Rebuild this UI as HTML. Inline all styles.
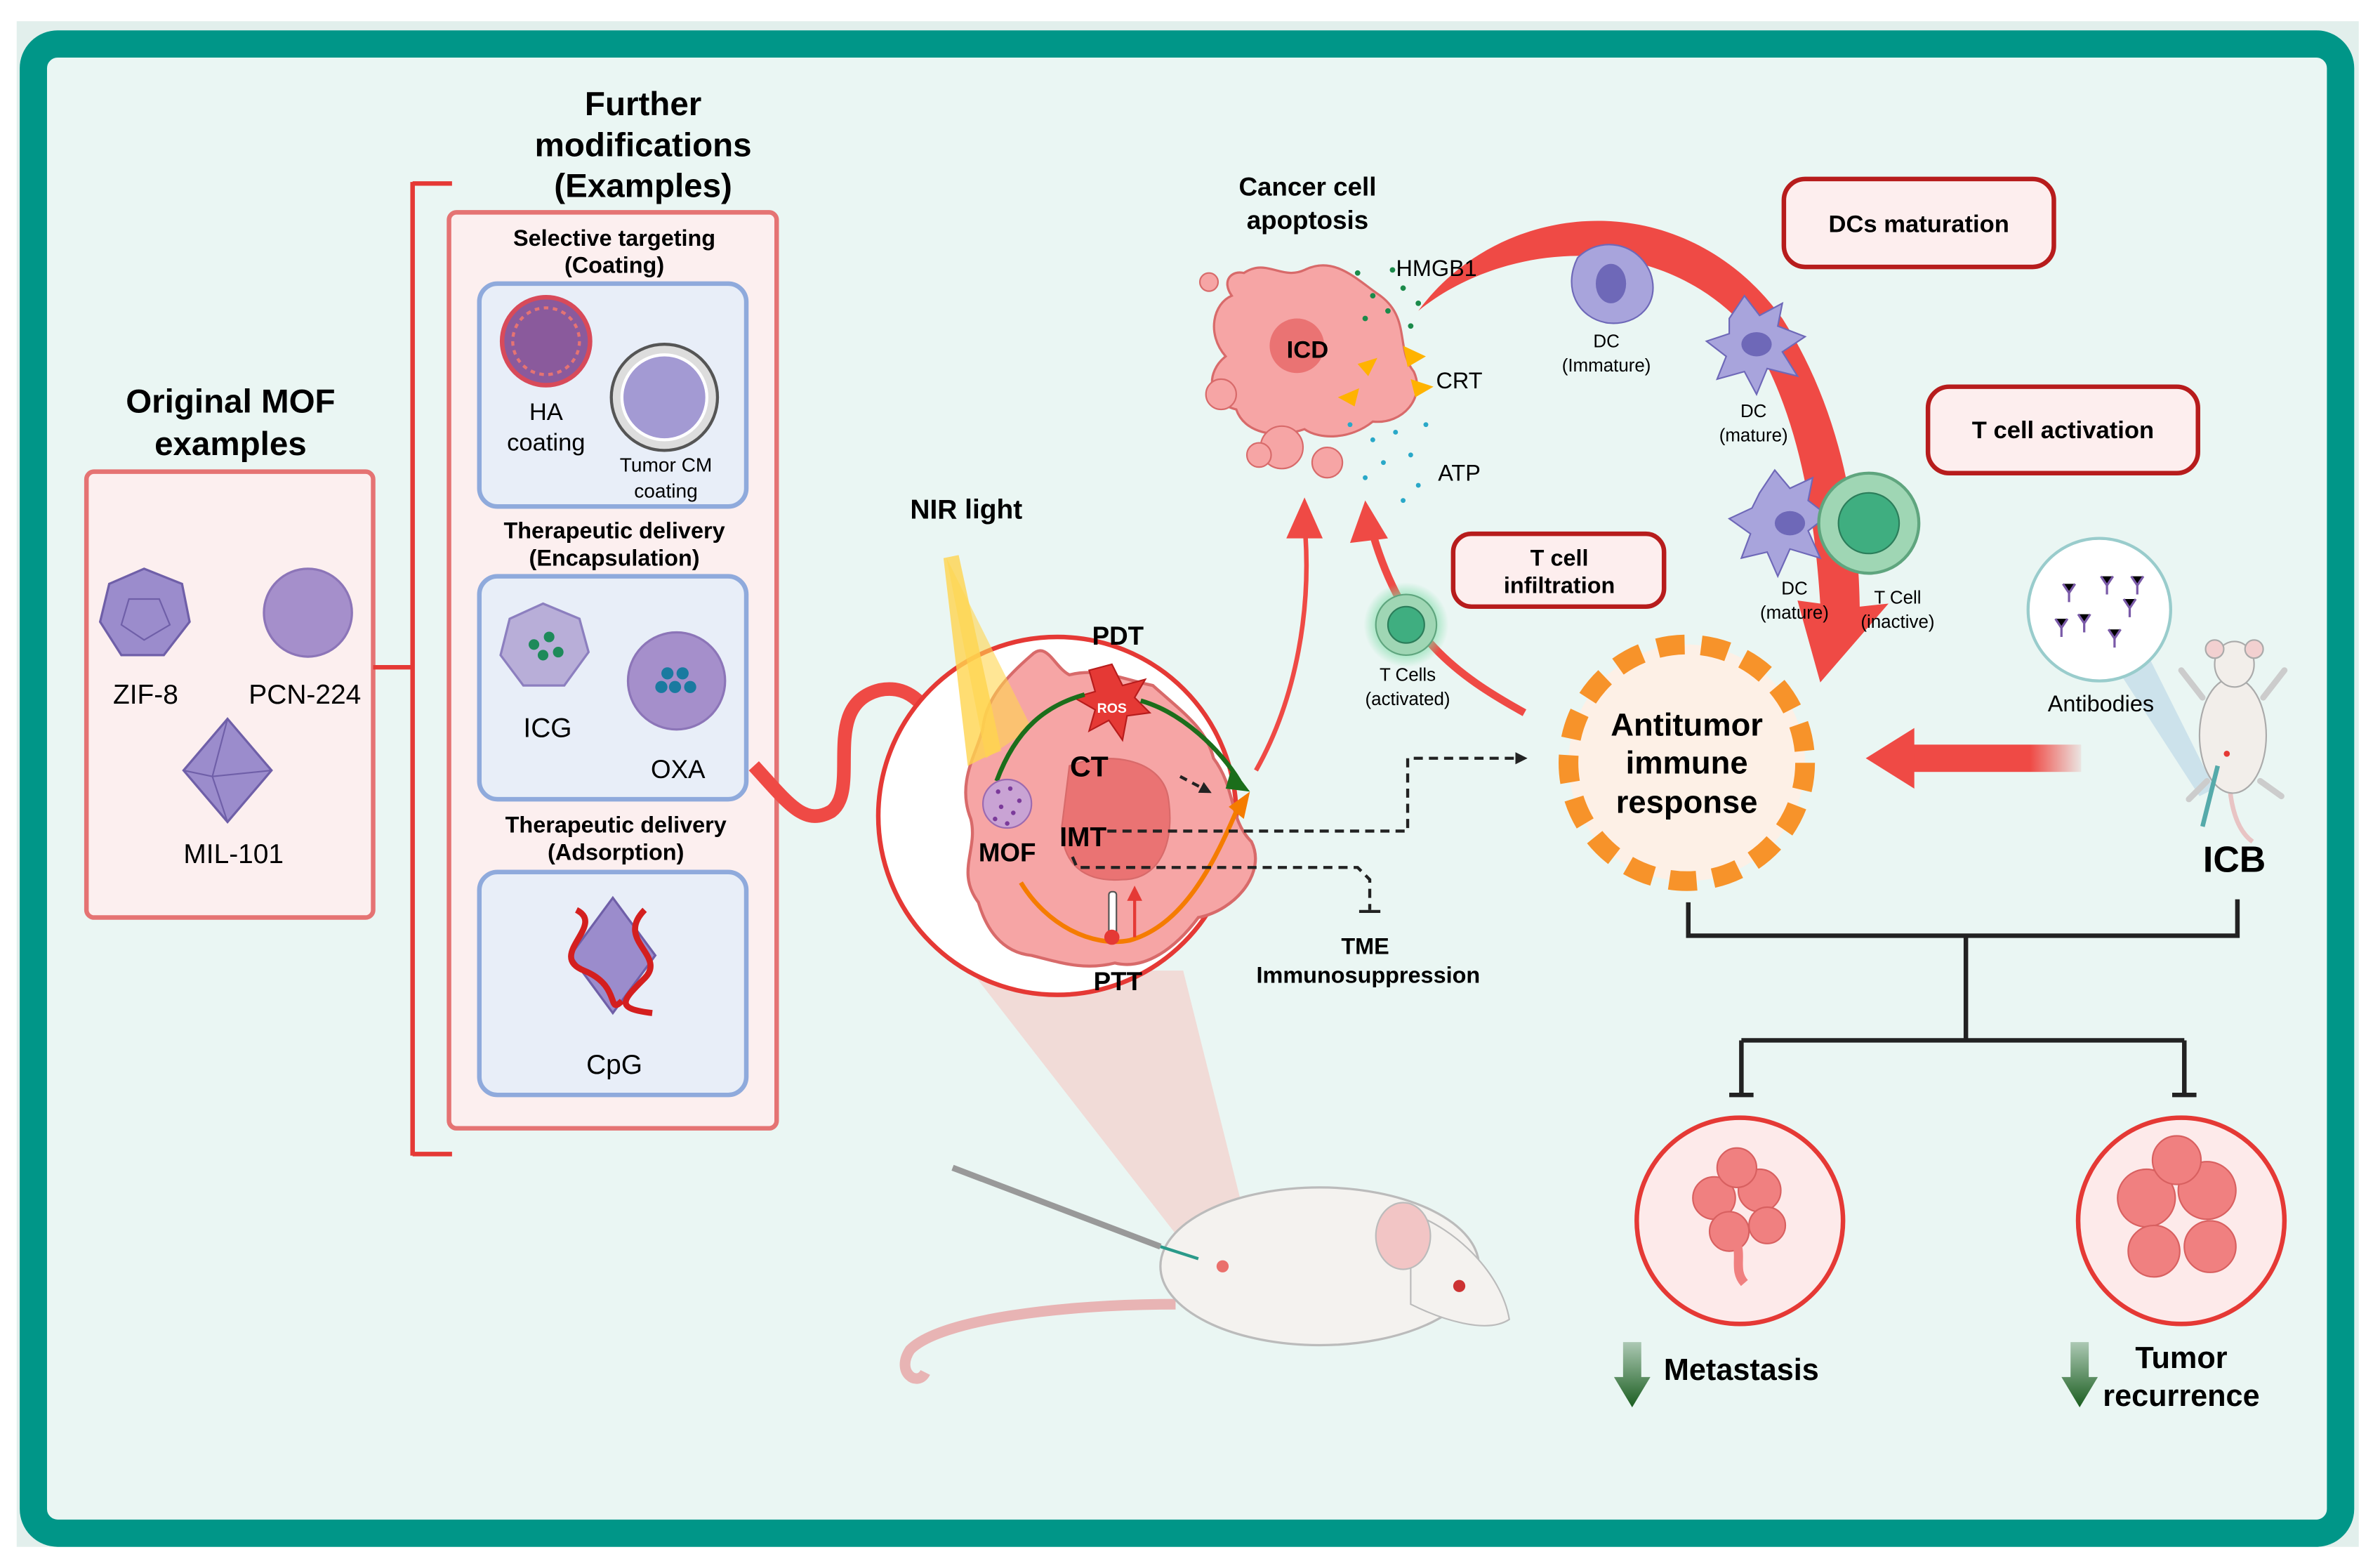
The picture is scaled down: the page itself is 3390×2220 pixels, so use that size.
<!DOCTYPE html>
<html><head><meta charset="utf-8">
<style>
html,body{margin:0;padding:0;background:#fff;}
svg{display:block;}
text{font-family:"Liberation Sans",Arial,sans-serif;}
.b{font-weight:bold;}
</style></head>
<body>
<svg width="3390" height="2220" viewBox="0 0 1569 1028" preserveAspectRatio="none" xmlns="http://www.w3.org/2000/svg">
<defs>
<radialGradient id="glow"><stop offset="0.6" stop-color="#7fdca8" stop-opacity="0.8"/><stop offset="1" stop-color="#7fdca8" stop-opacity="0"/></radialGradient>
<linearGradient id="fade" x1="0" x2="1"><stop offset="0" stop-color="#ef4a45"/><stop offset="0.7" stop-color="#ef4a45"/><stop offset="1" stop-color="#ef4a45" stop-opacity="0.1"/></linearGradient>
<linearGradient id="dn" x1="0" y1="0" x2="0" y2="1"><stop offset="0" stop-color="#1b5e20" stop-opacity="0.3"/><stop offset="1" stop-color="#1b5e20"/></linearGradient>
<marker id="ak" markerWidth="8" markerHeight="8" refX="6" refY="4" orient="auto" markerUnits="userSpaceOnUse"><path d="M0,0 L8,4 L0,8z" fill="#222"/></marker>
</defs>
<rect x="11" y="14" width="1544" height="1006" fill="#e2efec"/>
<rect x="22" y="29" width="1521" height="982" rx="16" fill="#eaf6f3" stroke="#009688" stroke-width="18"/>

<!-- Original MOF -->
<text x="152" y="272" font-size="22" class="b" text-anchor="middle">Original MOF</text>
<text x="152" y="300" font-size="22" class="b" text-anchor="middle">examples</text>
<rect x="57" y="311" width="189" height="294" rx="5" fill="#fcefef" stroke="#e57373" stroke-width="3"/>
<polygon points="95,375 120,385 125,410 108,432 80,432 66,410 72,385" fill="#9b8ccc" stroke="#6f5fa8" stroke-width="1.5"/>
<polygon points="85,395 105,395 112,412 95,422 80,412" fill="none" stroke="#6f5fa8"/>
<text x="96" y="464" font-size="18" text-anchor="middle">ZIF-8</text>
<circle cx="203" cy="404" r="29" fill="#a58fcb" stroke="#8c75b8" stroke-width="1.5"/>
<text x="201" y="464" font-size="18" text-anchor="middle">PCN-224</text>
<polygon points="150,474 179,508 150,542 121,508" fill="#9b8ccc" stroke="#6f5fa8" stroke-width="1.5"/>
<path d="M150,474 L140,512 L150,542 M121,508 L140,512 L179,508" fill="none" stroke="#6f5fa8"/>
<text x="154" y="569" font-size="18" text-anchor="middle">MIL-101</text>

<path d="M246,440 H272 M272,120 V762 M272,121 H298 M272,761 H298" stroke="#e53935" stroke-width="3" fill="none"/>

<text x="424" y="76" font-size="22" class="b" text-anchor="middle">Further</text>
<text x="424" y="103" font-size="22" class="b" text-anchor="middle">modifications</text>
<text x="424" y="130" font-size="22" class="b" text-anchor="middle">(Examples)</text>
<rect x="296" y="140" width="216" height="604" rx="5" fill="#fcefef" stroke="#e57373" stroke-width="3"/>

<text x="405" y="162" font-size="15" class="b" text-anchor="middle">Selective targeting</text>
<text x="405" y="180" font-size="15" class="b" text-anchor="middle">(Coating)</text>
<rect x="316" y="187" width="176" height="147" rx="12" fill="#e8eef8" stroke="#8faadc" stroke-width="3"/>
<circle cx="360" cy="225" r="29" fill="#8a5a9c" stroke="#d84a5a" stroke-width="3"/>
<circle cx="360" cy="225" r="22" fill="none" stroke="#e57373" stroke-width="2" stroke-dasharray="3 3"/>
<text x="360" y="277" font-size="16" text-anchor="middle">HA</text>
<text x="360" y="297" font-size="16" text-anchor="middle">coating</text>
<circle cx="438" cy="262" r="35" fill="#ddd" stroke="#555" stroke-width="2"/>
<circle cx="438" cy="262" r="28" fill="#a39ad3" stroke="#fff" stroke-width="2"/>
<text x="439" y="311" font-size="13" text-anchor="middle">Tumor CM</text>
<text x="439" y="328" font-size="13" text-anchor="middle">coating</text>

<text x="405" y="355" font-size="15" class="b" text-anchor="middle">Therapeutic delivery</text>
<text x="405" y="373" font-size="15" class="b" text-anchor="middle">(Encapsulation)</text>
<rect x="316" y="380" width="176" height="147" rx="12" fill="#e8eef8" stroke="#8faadc" stroke-width="3"/>
<polygon points="358,398 382,408 388,430 372,452 345,452 330,432 336,408" fill="#b8aed8" stroke="#8c7fbf" stroke-width="1.5"/>
<circle cx="352" cy="425" r="3.5" fill="#1e8a5a"/><circle cx="362" cy="420" r="3.5" fill="#1e8a5a"/><circle cx="358" cy="432" r="3.5" fill="#1e8a5a"/><circle cx="368" cy="430" r="3.5" fill="#1e8a5a"/>
<text x="361" y="486" font-size="18" text-anchor="middle">ICG</text>
<circle cx="446" cy="449" r="32" fill="#a58fcb" stroke="#8c75b8" stroke-width="1.5"/>
<circle cx="440" cy="444" r="4" fill="#1a7aa0"/><circle cx="450" cy="444" r="4" fill="#1a7aa0"/><circle cx="445" cy="453" r="4" fill="#1a7aa0"/><circle cx="455" cy="453" r="4" fill="#1a7aa0"/><circle cx="436" cy="453" r="4" fill="#1a7aa0"/>
<text x="447" y="513" font-size="17" text-anchor="middle">OXA</text>

<text x="406" y="549" font-size="15" class="b" text-anchor="middle">Therapeutic delivery</text>
<text x="406" y="567" font-size="15" class="b" text-anchor="middle">(Adsorption)</text>
<rect x="316" y="575" width="176" height="147" rx="12" fill="#e8eef8" stroke="#8faadc" stroke-width="3"/>
<polygon points="404,592 432,630 404,668 376,630" fill="#9b8ccc" stroke="#6f5fa8" stroke-width="1.5"/>
<path d="M380,600 C400,610 360,630 385,640 S400,670 410,660 M425,600 C405,620 440,630 425,645 S405,665 430,668" stroke="#d41f1f" stroke-width="4" fill="none"/>
<text x="405" y="708" font-size="18" text-anchor="middle">CpG</text>

<!-- wavy red arrow -->
<path d="M497,505 C520,530 530,545 548,535 C568,520 540,465 580,455 C605,450 615,475 625,490" stroke="#ef4a45" stroke-width="9" fill="none"/>
<polygon points="615,492 645,510 612,515" fill="#ef4a45"/>

<polygon points="640,640 780,640 820,800 780,820" fill="#f3d4cf" opacity="0.8"/>

<circle cx="697" cy="538" r="118" fill="#fff" stroke="#e53935" stroke-width="3"/>
<path d="M680,432 C690,422 695,440 705,445 C725,440 740,448 760,452 C780,470 795,480 800,500 C815,520 810,540 825,555 C835,575 815,600 790,605 C775,625 755,640 735,635 C715,640 700,635 680,630 C660,628 650,612 645,595 C630,575 645,560 640,540 C630,515 645,495 648,480 C650,460 665,445 680,432z" fill="#f6a5a5" stroke="#d86a6a" stroke-width="2"/>
<path d="M705,505 C730,495 765,500 770,525 C775,555 765,580 740,580 C715,582 700,570 700,545z" fill="#ea7373" stroke="#d86a6a"/>
<polygon points="622,368 632,366 660,495 648,500 638,505" fill="#ffd54f" opacity="0.8"/>
<polygon points="624,368 680,480 650,500" fill="#ffd54f" opacity="0.6"/>
<polygon points="733,438 740,452 755,448 748,460 758,470 743,472 740,488 731,475 718,482 722,468 708,460 722,456 718,442" fill="#e53935" stroke="#b71c1c"/>
<text x="733" y="470" font-size="9" class="b" fill="#fff" text-anchor="middle">ROS</text>
<path d="M657,515 C670,480 690,465 715,458 M752,462 C780,470 805,495 817,515" stroke="#1b6e1b" stroke-width="3" fill="none"/>
<polygon points="812,506 824,522 808,520" fill="#1b6e1b"/>
<path d="M673,582 C690,610 720,625 745,620 C780,610 800,570 815,535" stroke="#f57c00" stroke-width="3" fill="none"/>
<polygon points="810,532 824,522 820,540" fill="#f57c00"/>
<circle cx="664" cy="530" r="16" fill="#c9a3d4" stroke="#9b6ab0"/>
<g fill="#7b3a9a"><circle cx="658" cy="522" r="1.5"/><circle cx="666" cy="520" r="1.5"/><circle cx="672" cy="528" r="1.5"/><circle cx="660" cy="532" r="1.5"/><circle cx="668" cy="536" r="1.5"/><circle cx="656" cy="540" r="1.5"/><circle cx="664" cy="543" r="1.5"/></g>
<text x="737" y="425" font-size="17" class="b" text-anchor="middle">PDT</text>
<text x="718" y="512" font-size="19" class="b" text-anchor="middle">CT</text>
<text x="714" y="558" font-size="18" class="b" text-anchor="middle">IMT</text>
<text x="664" y="568" font-size="17" class="b" text-anchor="middle">MOF</text>
<text x="737" y="653" font-size="17" class="b" text-anchor="middle">PTT</text>
<rect x="731" y="588" width="5" height="30" rx="2" fill="#fff" stroke="#555"/><circle cx="733" cy="618" r="5" fill="#e53935"/>
<path d="M748,618 V592" stroke="#e53935" stroke-width="2"/><polygon points="743,594 748,584 753,594" fill="#e53935"/>
<path d="M778,512 L797,522" stroke="#222" stroke-width="2" stroke-dasharray="5 4" marker-end="url(#ak)"/>
<path d="M730,548 H928 V500 H1005" stroke="#222" stroke-width="2" stroke-dasharray="6 4" fill="none" marker-end="url(#ak)"/>
<path d="M707,565 L710,572 H895 L903,580 V600" stroke="#222" stroke-width="2" stroke-dasharray="6 4" fill="none"/>
<path d="M896,601 H910" stroke="#222" stroke-width="2"/>
<text x="900" y="629" font-size="15" class="b" text-anchor="middle">TME</text>
<text x="902" y="648" font-size="15" class="b" text-anchor="middle">Immunosuppression</text>
<text x="637" y="342" font-size="18" class="b" text-anchor="middle">NIR light</text>

<path d="M828,508 C855,460 865,400 860,345" stroke="#ef4a45" stroke-width="3" fill="none"/>
<polygon points="848,355 860,328 872,355" fill="#ef4a45"/>
<path d="M1005,470 C960,445 925,420 905,352" stroke="#ef4a45" stroke-width="5" fill="none"/>
<polygon points="890,358 900,330 915,355" fill="#ef4a45"/>
<circle cx="927" cy="412" r="28" fill="url(#glow)"/>
<circle cx="927" cy="412" r="20" fill="#9fd6b4" stroke="#5fa57e"/>
<circle cx="927" cy="412" r="12" fill="#3fae80" stroke="#2b7d5a"/>
<text x="928" y="449" font-size="12" text-anchor="middle">T Cells</text>
<text x="928" y="465" font-size="12" text-anchor="middle">(activated)</text>

<!-- big arc arrow (behind labels) -->
<path d="M935,205 C990,130 1110,120 1175,210 C1210,265 1225,330 1226,400 L1245,398 L1200,450 L1185,396 L1200,398 C1195,320 1180,260 1150,215 C1090,150 990,160 935,205z" fill="#ef4a45"/>

<text x="862" y="129" font-size="17" class="b" text-anchor="middle">Cancer cell</text>
<text x="862" y="151" font-size="17" class="b" text-anchor="middle">apoptosis</text>
<path d="M820,180 C835,170 845,185 860,178 C880,168 895,185 910,195 C930,210 920,230 932,245 C940,262 925,280 905,278 C890,290 870,290 860,283 C840,290 820,285 815,270 C795,265 795,245 808,235 C795,220 800,200 812,195 C805,185 812,178 820,180z" fill="#f6a5a5" stroke="#d86a6a" stroke-width="1.5"/>
<circle cx="855" cy="228" r="18" fill="#ea7373"/>
<circle cx="797" cy="186" r="6" fill="#f6a5a5" stroke="#d86a6a"/><circle cx="805" cy="260" r="10" fill="#f6a5a5" stroke="#d86a6a"/><circle cx="845" cy="295" r="14" fill="#f6a5a5" stroke="#d86a6a"/><circle cx="875" cy="305" r="10" fill="#f6a5a5" stroke="#d86a6a"/><circle cx="830" cy="300" r="8" fill="#f6a5a5" stroke="#d86a6a"/>
<text x="862" y="236" font-size="16" class="b" text-anchor="middle">ICD</text>
<g fill="#1b8a4a"><circle cx="895" cy="180" r="1.8"/><circle cx="905" cy="195" r="1.8"/><circle cx="915" cy="205" r="1.8"/><circle cx="925" cy="190" r="1.8"/><circle cx="900" cy="210" r="1.8"/><circle cx="930" cy="215" r="1.8"/><circle cx="918" cy="178" r="1.8"/><circle cx="935" cy="200" r="1.8"/></g>
<g fill="#ffb300"><polygon points="895,240 908,236 902,248"/><polygon points="925,228 940,235 928,242"/><polygon points="882,262 896,256 893,268"/><polygon points="930,250 945,255 933,262"/></g>
<g fill="#29a8c8"><circle cx="890" cy="280" r="1.6"/><circle cx="905" cy="290" r="1.6"/><circle cx="920" cy="285" r="1.6"/><circle cx="930" cy="300" r="1.6"/><circle cx="912" cy="305" r="1.6"/><circle cx="935" cy="320" r="1.6"/><circle cx="925" cy="330" r="1.6"/><circle cx="900" cy="315" r="1.6"/><circle cx="940" cy="280" r="1.6"/></g>
<text x="947" y="182" font-size="15" text-anchor="middle">HMGB1</text>
<text x="962" y="256" font-size="15" text-anchor="middle">CRT</text>
<text x="962" y="317" font-size="15" text-anchor="middle">ATP</text>

<!-- DC cells -->
<path d="M1040,170 C1055,155 1080,160 1088,180 C1095,200 1080,215 1060,213 C1040,210 1030,190 1040,170z" fill="#a8a4dc" stroke="#6e68b8"/>
<ellipse cx="1062" cy="187" rx="10" ry="13" fill="#6e68b8"/>
<text x="1059" y="229" font-size="12" text-anchor="middle">DC</text>
<text x="1059" y="245" font-size="12" text-anchor="middle">(Immature)</text>
<path d="M1140,210 L1150,195 L1160,208 L1175,200 L1172,215 L1190,222 L1175,232 L1185,248 L1165,243 L1158,260 L1150,245 L1132,250 L1138,235 L1125,225 L1140,220z" fill="#a8a4dc" stroke="#6e68b8"/>
<ellipse cx="1158" cy="227" rx="10" ry="8" fill="#6e68b8"/>
<text x="1156" y="275" font-size="12" text-anchor="middle">DC</text>
<text x="1156" y="291" font-size="12" text-anchor="middle">(mature)</text>
<path d="M1160,325 L1170,310 L1180,322 L1195,315 L1192,330 L1205,340 L1192,350 L1200,368 L1180,362 L1172,380 L1165,364 L1148,368 L1154,352 L1140,342 L1155,335z" fill="#a8a4dc" stroke="#6e68b8"/>
<ellipse cx="1180" cy="345" rx="10" ry="8" fill="#6e68b8"/>
<text x="1183" y="392" font-size="12" text-anchor="middle">DC</text>
<text x="1183" y="408" font-size="12" text-anchor="middle">(mature)</text>
<circle cx="1232" cy="345" r="33" fill="#9fd6b4" stroke="#5fa57e" stroke-width="2"/>
<circle cx="1232" cy="345" r="20" fill="#3fae80" stroke="#2b7d5a"/>
<text x="1251" y="398" font-size="12" text-anchor="middle">T Cell</text>
<text x="1251" y="414" font-size="12" text-anchor="middle">(inactive)</text>

<rect x="1176" y="118" width="178" height="58" rx="14" fill="#fdeeee" stroke="#b71c1c" stroke-width="3"/>
<text x="1265" y="153" font-size="16" class="b" text-anchor="middle">DCs maturation</text>
<rect x="1271" y="255" width="178" height="57" rx="14" fill="#fdeeee" stroke="#b71c1c" stroke-width="3"/>
<text x="1360" y="289" font-size="16" class="b" text-anchor="middle">T cell activation</text>
<rect x="958" y="352" width="139" height="48" rx="12" fill="#fdeeee" stroke="#b71c1c" stroke-width="3"/>
<text x="1028" y="373" font-size="15" class="b" text-anchor="middle">T cell</text>
<text x="1028" y="391" font-size="15" class="b" text-anchor="middle">infiltration</text>

<circle cx="1112" cy="503" r="78" fill="#fdf0e6" stroke="#f7932a" stroke-width="13" stroke-dasharray="18 11"/>
<text x="1112" y="485" font-size="21" class="b" text-anchor="middle">Antitumor</text>
<text x="1112" y="510" font-size="21" class="b" text-anchor="middle">immune</text>
<text x="1112" y="536" font-size="21" class="b" text-anchor="middle">response</text>
<rect x="1260" y="491" width="112" height="18" fill="url(#fade)"/>
<polygon points="1262,480 1262,520 1230,500" fill="#ef4a45"/>

<polygon points="1410,420 1460,520 1450,525 1395,440" fill="#b8d6e6" opacity="0.6"/>
<circle cx="1384" cy="402" r="47" fill="#fff" stroke="#9cc" stroke-width="2"/>
<g stroke="#7a5aa8" stroke-width="1.5"><path d="M1360,385 l4,6 l4,-6 M1364,391 v6"/><path d="M1385,380 l4,6 l4,-6 M1389,386 v6"/><path d="M1400,395 l4,6 l4,-6 M1404,401 v6"/><path d="M1370,405 l4,6 l4,-6 M1374,411 v6"/><path d="M1390,415 l4,6 l4,-6 M1394,421 v6"/><path d="M1405,380 l4,6 l4,-6 M1409,386 v6"/><path d="M1355,408 l4,6 l4,-6 M1359,414 v6"/></g>
<text x="1385" y="469" font-size="15" text-anchor="middle">Antibodies</text>
<path d="M1470,520 C1472,540 1478,550 1485,555" stroke="#e8c4c4" stroke-width="3" fill="none"/>
<ellipse cx="1472" cy="485" rx="22" ry="38" fill="#f2eeea" stroke="#aaa"/>
<ellipse cx="1473" cy="438" rx="13" ry="15" fill="#f2eeea" stroke="#aaa"/>
<circle cx="1460" cy="428" r="6" fill="#f2d0d0" stroke="#aaa"/><circle cx="1486" cy="428" r="6" fill="#f2d0d0" stroke="#aaa"/>
<path d="M1452,460 l-14,-18 M1492,460 l14,-18 M1455,515 l-12,12 M1490,515 l14,10" stroke="#ccc" stroke-width="4" stroke-linecap="round"/>
<circle cx="1468" cy="497" r="2" fill="#e53935"/>
<path d="M1462,505 L1452,545" stroke="#5aa" stroke-width="3"/>
<text x="1473" y="575" font-size="24" class="b" text-anchor="middle">ICB</text>

<path d="M1113,595 V617 H1475 V593 M1296,617 V686 M1148,686 H1440 M1148,686 V722 M1440,686 V722 M1140,722 H1156 M1432,722 H1448" stroke="#222" stroke-width="3" fill="none"/>
<circle cx="1147" cy="805" r="68" fill="#fdeaea" stroke="#e53935" stroke-width="3"/>
<g fill="#f08080" stroke="#d86060"><circle cx="1130" cy="790" r="14"/><circle cx="1160" cy="785" r="14"/><circle cx="1145" cy="770" r="13"/><circle cx="1140" cy="812" r="13"/><circle cx="1165" cy="808" r="12"/></g>
<path d="M1145,820 C1148,830 1143,838 1150,846" stroke="#f08080" stroke-width="6" fill="none"/>
<circle cx="1438" cy="805" r="68" fill="#fdeaea" stroke="#e53935" stroke-width="3"/>
<g fill="#f08080" stroke="#d86060"><circle cx="1415" cy="790" r="19"/><circle cx="1455" cy="785" r="19"/><circle cx="1435" cy="765" r="16"/><circle cx="1420" cy="825" r="17"/><circle cx="1457" cy="822" r="17"/></g>
<polygon points="1070,885 1082,885 1082,908 1088,908 1076,928 1064,908 1070,908" fill="url(#dn)"/>
<text x="1148" y="910" font-size="20" class="b" text-anchor="middle">Metastasis</text>
<polygon points="1365,885 1377,885 1377,908 1383,908 1371,928 1359,908 1365,908" fill="url(#dn)"/>
<text x="1438" y="902" font-size="20" class="b" text-anchor="middle">Tumor</text>
<text x="1438" y="927" font-size="20" class="b" text-anchor="middle">recurrence</text>

<path d="M775,860 C700,860 620,870 600,890 C590,905 605,915 610,905" stroke="#e8b4b4" stroke-width="7" fill="none"/>
<ellipse cx="870" cy="835" rx="105" ry="52" fill="#f4f2ef" stroke="#bbb" stroke-width="1.5"/>
<path d="M930,800 C960,810 990,840 995,870 C980,880 950,870 930,860z" fill="#f4f2ef" stroke="#bbb"/>
<ellipse cx="925" cy="815" rx="18" ry="22" fill="#f2c5c5" stroke="#bbb"/>
<circle cx="962" cy="848" r="4" fill="#c33"/>
<circle cx="806" cy="835" r="4" fill="#e53935" opacity="0.7"/>
<path d="M628,770 L765,822" stroke="#999" stroke-width="4"/>
<path d="M765,822 L790,830" stroke="#2a9a8a" stroke-width="2"/>
</svg>
</body></html>
